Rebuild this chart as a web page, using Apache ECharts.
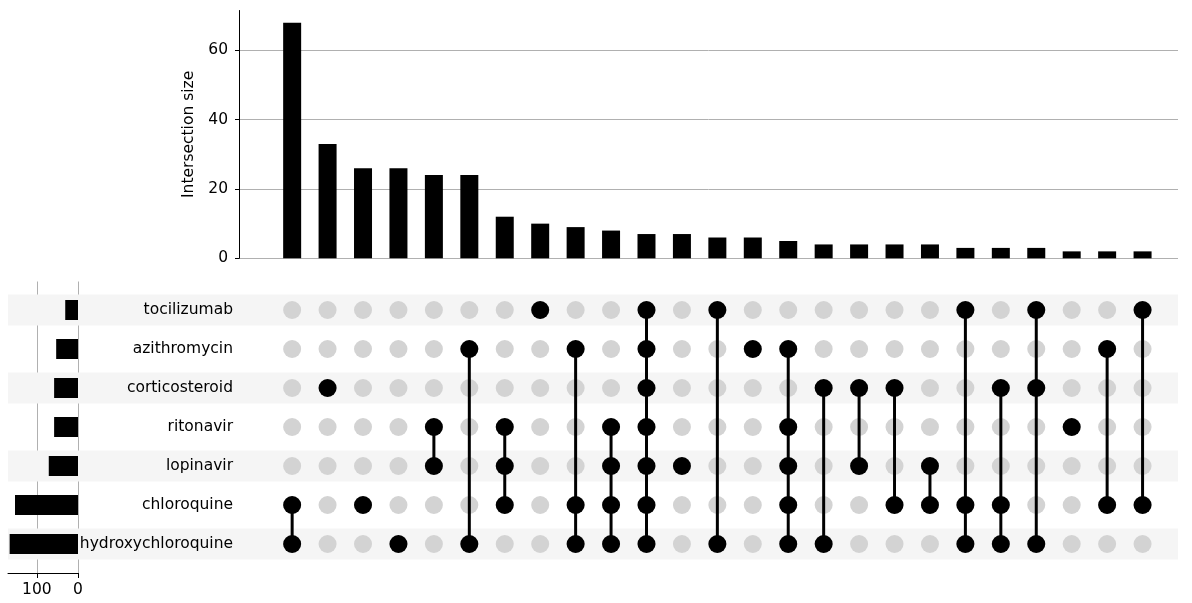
<!DOCTYPE html>
<html>
<head>
<meta charset="utf-8">
<script src="https://cdn.jsdelivr.net/npm/echarts@6/dist/echarts.min.js"></script>
<style>
  html, body { margin: 0; padding: 0; background: #fff; }
  #chart { width: 1192px; height: 603px; }
</style>
</head>
<body>
<div id="chart"></div>
<script>
// sets, top to bottom
const sets = ['tocilizumab', 'azithromycin', 'corticosteroid', 'ritonavir', 'lopinavir', 'chloroquine', 'hydroxychloroquine']
const setSizes = [31, 53, 58, 58, 71, 153, 166]

// intersections, left to right
const intersectionSizes = [68, 33, 26, 26, 24, 24, 12, 10, 9, 8, 7, 7, 6, 6, 5, 4, 4, 4, 4, 3, 3, 3, 2, 2, 2]
const memberships = [
  ['chloroquine', 'hydroxychloroquine'],
  ['corticosteroid'],
  ['chloroquine'],
  ['hydroxychloroquine'],
  ['ritonavir', 'lopinavir'],
  ['azithromycin', 'hydroxychloroquine'],
  ['ritonavir', 'lopinavir', 'chloroquine'],
  ['tocilizumab'],
  ['azithromycin', 'chloroquine', 'hydroxychloroquine'],
  ['ritonavir', 'lopinavir', 'chloroquine', 'hydroxychloroquine'],
  ['tocilizumab', 'azithromycin', 'corticosteroid', 'ritonavir', 'lopinavir', 'chloroquine', 'hydroxychloroquine'],
  ['lopinavir'],
  ['tocilizumab', 'hydroxychloroquine'],
  ['azithromycin'],
  ['azithromycin', 'ritonavir', 'lopinavir', 'chloroquine', 'hydroxychloroquine'],
  ['corticosteroid', 'hydroxychloroquine'],
  ['corticosteroid', 'lopinavir'],
  ['corticosteroid', 'chloroquine'],
  ['lopinavir', 'chloroquine'],
  ['tocilizumab', 'chloroquine', 'hydroxychloroquine'],
  ['corticosteroid', 'chloroquine', 'hydroxychloroquine'],
  ['tocilizumab', 'corticosteroid', 'hydroxychloroquine'],
  ['ritonavir'],
  ['azithromycin', 'chloroquine'],
  ['tocilizumab', 'chloroquine']
]
const sizeTicks = [0, 20, 40, 60]
const setTicks = [0, 100]

const FONT = 'DejaVu Sans'

// built from the arrays above
const topBars = intersectionSizes.map((v, i) => [i, v])
const greyDots = []
const blackDots = []
const links = []
memberships.forEach((m, i) => {
  const rows = m.map(s => sets.indexOf(s))
  sets.forEach((s, r) => greyDots.push([i, r]))
  rows.forEach(r => blackDots.push([i, r]))
  if (rows.length > 1) links.push([i, Math.min(...rows), Math.max(...rows)])
})
const shading = sets.map((s, r) => (r % 2 === 0 ? 1 : 0))

const chart = echarts.init(document.getElementById('chart'))

chart.setOption({
  animation: false,
  textStyle: { fontFamily: FONT },
  grid: [
    // 0: intersection bars
    { left: 239, right: 14, top: 10.5, bottom: 344.7 },
    // 1: matrix
    { left: 239, right: 14, top: 290.5, bottom: 39.5 },
    // 2: row shading
    { left: 8, right: 14, top: 290.5, bottom: 39.5 },
    // 3: set size bars
    { left: 8, right: 1114, top: 290.5, bottom: 39.5 },
    // 4: set size axis + grid lines
    { left: 8, right: 1114, top: 281.5, bottom: 30 }
  ],
  xAxis: [
    { gridIndex: 0, type: 'value', min: -1.5, max: 25, show: false },
    { gridIndex: 1, type: 'value', min: -1.5, max: 25, show: false },
    { gridIndex: 2, type: 'value', min: 0, max: 1, show: false },
    { gridIndex: 3, type: 'value', min: 0, max: 170, inverse: true, show: false },
    {
      gridIndex: 4, type: 'value', min: 0, max: 170, interval: 100, inverse: true,
      axisLine: { show: true, onZero: false, lineStyle: { color: '#000', width: 1 } },
      axisTick: { show: true, length: 5, customValues: setTicks, lineStyle: { color: '#000' } },
      axisLabel: { customValues: setTicks, margin: 9, color: '#000', fontSize: 15.5, fontFamily: FONT },
      splitLine: { show: true, lineStyle: { color: '#b0b0b0', width: 1 } }
    }
  ],
  yAxis: [
    {
      gridIndex: 0, type: 'value', min: 0, max: 71.5, interval: 20,
      name: 'Intersection size', nameLocation: 'middle', nameGap: 33,
      nameTextStyle: { color: '#000', fontSize: 15.5, fontFamily: FONT },
      axisLine: { show: true, onZero: false, lineStyle: { color: '#000', width: 1 } },
      axisTick: { show: true, length: 4, customValues: sizeTicks, lineStyle: { color: '#000' } },
      axisLabel: { customValues: sizeTicks, margin: 11, color: '#000', fontSize: 15.5, fontFamily: FONT },
      splitLine: { show: true, lineStyle: { color: '#b0b0b0', width: 1 } }
    },
    {
      gridIndex: 1, type: 'category', data: sets, inverse: true,
      axisLine: { show: false }, axisTick: { show: false },
      axisLabel: { margin: 6, color: '#000', fontSize: 15.5, fontFamily: FONT }
    },
    { gridIndex: 2, type: 'category', data: sets, inverse: true, show: false },
    { gridIndex: 3, type: 'category', data: sets, inverse: true, show: false },
    { gridIndex: 4, type: 'value', min: 0, max: 1, show: false }
  ],
  series: [
    {
      type: 'bar', xAxisIndex: 2, yAxisIndex: 2, silent: true, z: 0,
      barWidth: 31, itemStyle: { color: '#f5f5f5' },
      data: shading
    },
    {
      type: 'bar', xAxisIndex: 0, yAxisIndex: 0, barWidth: 18,
      itemStyle: { color: '#000' }, data: topBars
    },
    {
      type: 'bar', xAxisIndex: 3, yAxisIndex: 3, barWidth: 20,
      itemStyle: { color: '#000' }, data: setSizes
    },
    {
      type: 'scatter', xAxisIndex: 1, yAxisIndex: 1, symbolSize: 18, z: 3,
      itemStyle: { color: '#d3d3d3', opacity: 1 }, data: greyDots
    },
    {
      type: 'custom', xAxisIndex: 1, yAxisIndex: 1, z: 4,
      encode: { x: 0, y: [1, 2] },
      renderItem(params, api) {
        const a = api.coord([api.value(0), api.value(1)])
        const b = api.coord([api.value(0), api.value(2)])
        return {
          type: 'line',
          shape: { x1: a[0], y1: a[1], x2: b[0], y2: b[1] },
          style: { stroke: '#000', lineWidth: 3 }
        }
      },
      data: links
    },
    {
      type: 'scatter', xAxisIndex: 1, yAxisIndex: 1, symbolSize: 18, z: 5,
      itemStyle: { color: '#000', opacity: 1 }, data: blackDots
    }
  ]
})
</script>
</body>
</html>
